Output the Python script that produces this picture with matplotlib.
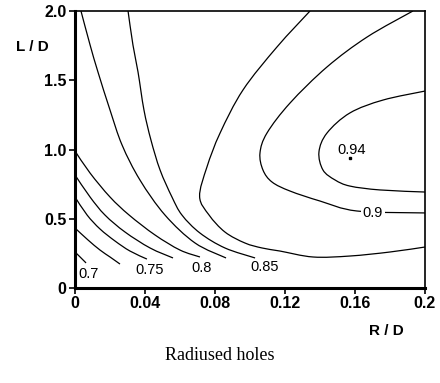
import matplotlib
matplotlib.use("Agg")
import matplotlib.pyplot as plt
from matplotlib.path import Path
from matplotlib.patches import PathPatch

# ---- data: contour lines of discharge coefficient (R/D, L/D) ----
c070_x = [0.0, 0.0029, 0.0063]
c070_y = [0.26, 0.224, 0.181]

c0725_x = [0.0, 0.0074, 0.0143, 0.0200, 0.0257]
c0725_y = [0.433, 0.347, 0.274, 0.224, 0.173]

c075_x = [0.0, 0.0069, 0.0143, 0.0229, 0.0314, 0.0411]
c075_y = [0.657, 0.527, 0.426, 0.339, 0.267, 0.209]

c0775_x = [0.0, 0.0086, 0.0171, 0.0286, 0.0429, 0.056]
c0775_y = [0.816, 0.657, 0.527, 0.404, 0.289, 0.217]

c080_x = [0.0, 0.0086, 0.020, 0.0309, 0.0457, 0.060, 0.0714]
c080_y = [0.989, 0.830, 0.657, 0.527, 0.383, 0.274, 0.224]

c0825_x = [0.0034, 0.0086, 0.0131, 0.020, 0.0269, 0.0371, 0.0514, 0.0686, 0.0863]
c0825_y = [2.0, 1.755, 1.56, 1.285, 1.032, 0.78, 0.527, 0.325, 0.217]

c085_x = [0.0303, 0.0331, 0.036, 0.0394, 0.0434, 0.0486, 0.0554, 0.0611, 0.0714, 0.0857, 0.1029]
c085_y = [2.0, 1.755, 1.56, 1.285, 1.068, 0.852, 0.657, 0.527, 0.397, 0.289, 0.217]

c0875_x = [0.1343, 0.1154, 0.096, 0.0829, 0.0754, 0.0712, 0.0766, 0.0857,
           0.0971, 0.1069, 0.1171, 0.136, 0.1571, 0.18, 0.2]
c0875_y = [2.0, 1.740, 1.430, 1.119, 0.874, 0.660, 0.527, 0.404,
           0.325, 0.289, 0.267, 0.224, 0.231, 0.26, 0.296]

c090_x = [0.1931, 0.1669, 0.144, 0.1229, 0.1097, 0.1057, 0.1074, 0.1126, 0.1229,
          0.14, 0.1611, 0.2]
c090_y = [2.0, 1.812, 1.596, 1.336, 1.119, 0.975, 0.852, 0.765, 0.700,
          0.628, 0.556, 0.542]

c094_x = [0.2, 0.176, 0.1571, 0.144, 0.1394, 0.1417, 0.1486, 0.1571, 0.1743, 0.2]
c094_y = [1.422, 1.357, 1.264, 1.119, 0.982, 0.852, 0.780, 0.736, 0.708, 0.693]

peak_x = [0.157]
peak_y = [0.94]

label_text = ["0.7", "0.75", "0.8", "0.85", "0.9", "0.94"]
label_x = [0.0075, 0.0429, 0.0726, 0.1086, 0.1703, 0.1583]
label_y = [0.101, 0.13, 0.144, 0.152, 0.542, 1.0]

xticks = [0, 0.04, 0.08, 0.12, 0.16, 0.2]
xtick_labels = ["0", "0.04", "0.08", "0.12", "0.16", "0.2"]
yticks = [0, 0.5, 1.0, 1.5, 2.0]
ytick_labels = ["0", "0.5", "1.0", "1.5", "2.0"]

# ---- figure ----
fig = plt.figure(figsize=(4.4, 3.83), dpi=100)
ax = fig.add_axes([0.1705, 0.248, 0.7954, 0.7233])
ax.set_xlim(0, 0.2)
ax.set_ylim(0, 2.0)


def smooth_path(xs, ys):
    """Catmull-Rom curve through the given points, drawn as cubic Beziers
    in display space so that the curvature looks even on both axes."""
    pts = ax.transData.transform(list(zip(xs, ys)))
    n = len(pts)
    verts = [pts[0]]
    codes = [Path.MOVETO]
    for i in range(n - 1):
        p0 = pts[i - 1] if i > 0 else pts[i]
        p1 = pts[i]
        p2 = pts[i + 1]
        p3 = pts[i + 2] if i + 2 < n else pts[i + 1]
        c1 = p1 + (p2 - p0) / 6.0
        c2 = p2 - (p3 - p1) / 6.0
        verts += [c1, c2, p2]
        codes += [Path.CURVE4] * 3
    return Path(verts, codes)


curves = [(c070_x, c070_y), (c0725_x, c0725_y), (c075_x, c075_y),
          (c0775_x, c0775_y), (c080_x, c080_y), (c0825_x, c0825_y),
          (c085_x, c085_y), (c0875_x, c0875_y), (c090_x, c090_y),
          (c094_x, c094_y)]
for cx, cy in curves:
    patch = PathPatch(smooth_path(cx, cy), facecolor="none", edgecolor="black",
                      lw=0.9, transform=None, capstyle="butt")
    patch.set_clip_path(ax.patch)
    ax.add_artist(patch)

ax.plot(peak_x, peak_y, marker="s", ms=2, color="black", ls="none")

font_lab = dict(family="Liberation Sans", size=10.5, color="black")
for t, x, y in zip(label_text, label_x, label_y):
    kw = {}
    if t == "0.9":
        kw = dict(bbox=dict(facecolor="white", edgecolor="none", pad=1.0))
    ax.text(x, y, t, ha="center", va="center", zorder=5, **font_lab, **kw)

ax.set_xticks(xticks)
ax.set_xticklabels(xtick_labels)
ax.set_yticks(yticks)
ax.set_yticklabels(ytick_labels)
for lab in ax.get_xticklabels() + ax.get_yticklabels():
    lab.set_family("Liberation Sans")
    lab.set_fontweight("bold")
    lab.set_fontsize(11.5)

ax.tick_params(axis="both", direction="out", length=4, width=1.2, pad=2)
ax.spines["left"].set_linewidth(2.2)
ax.spines["bottom"].set_linewidth(2.2)
ax.spines["top"].set_linewidth(1.2)
ax.spines["right"].set_linewidth(1.2)

fig.text(32 / 440, 1 - 47 / 383, "L / D", ha="center", va="center",
         family="Liberation Sans", fontweight="bold", fontsize=11)
fig.text(386 / 440, 1 - 331 / 383, "R / D", ha="center", va="center",
         family="Liberation Sans", fontweight="bold", fontsize=11)
fig.text(220 / 440, 1 - 356 / 383, "Radiused holes", ha="center", va="center",
         family="Liberation Serif", fontsize=13)

fig.savefig("out.png", dpi=100, facecolor="white")
